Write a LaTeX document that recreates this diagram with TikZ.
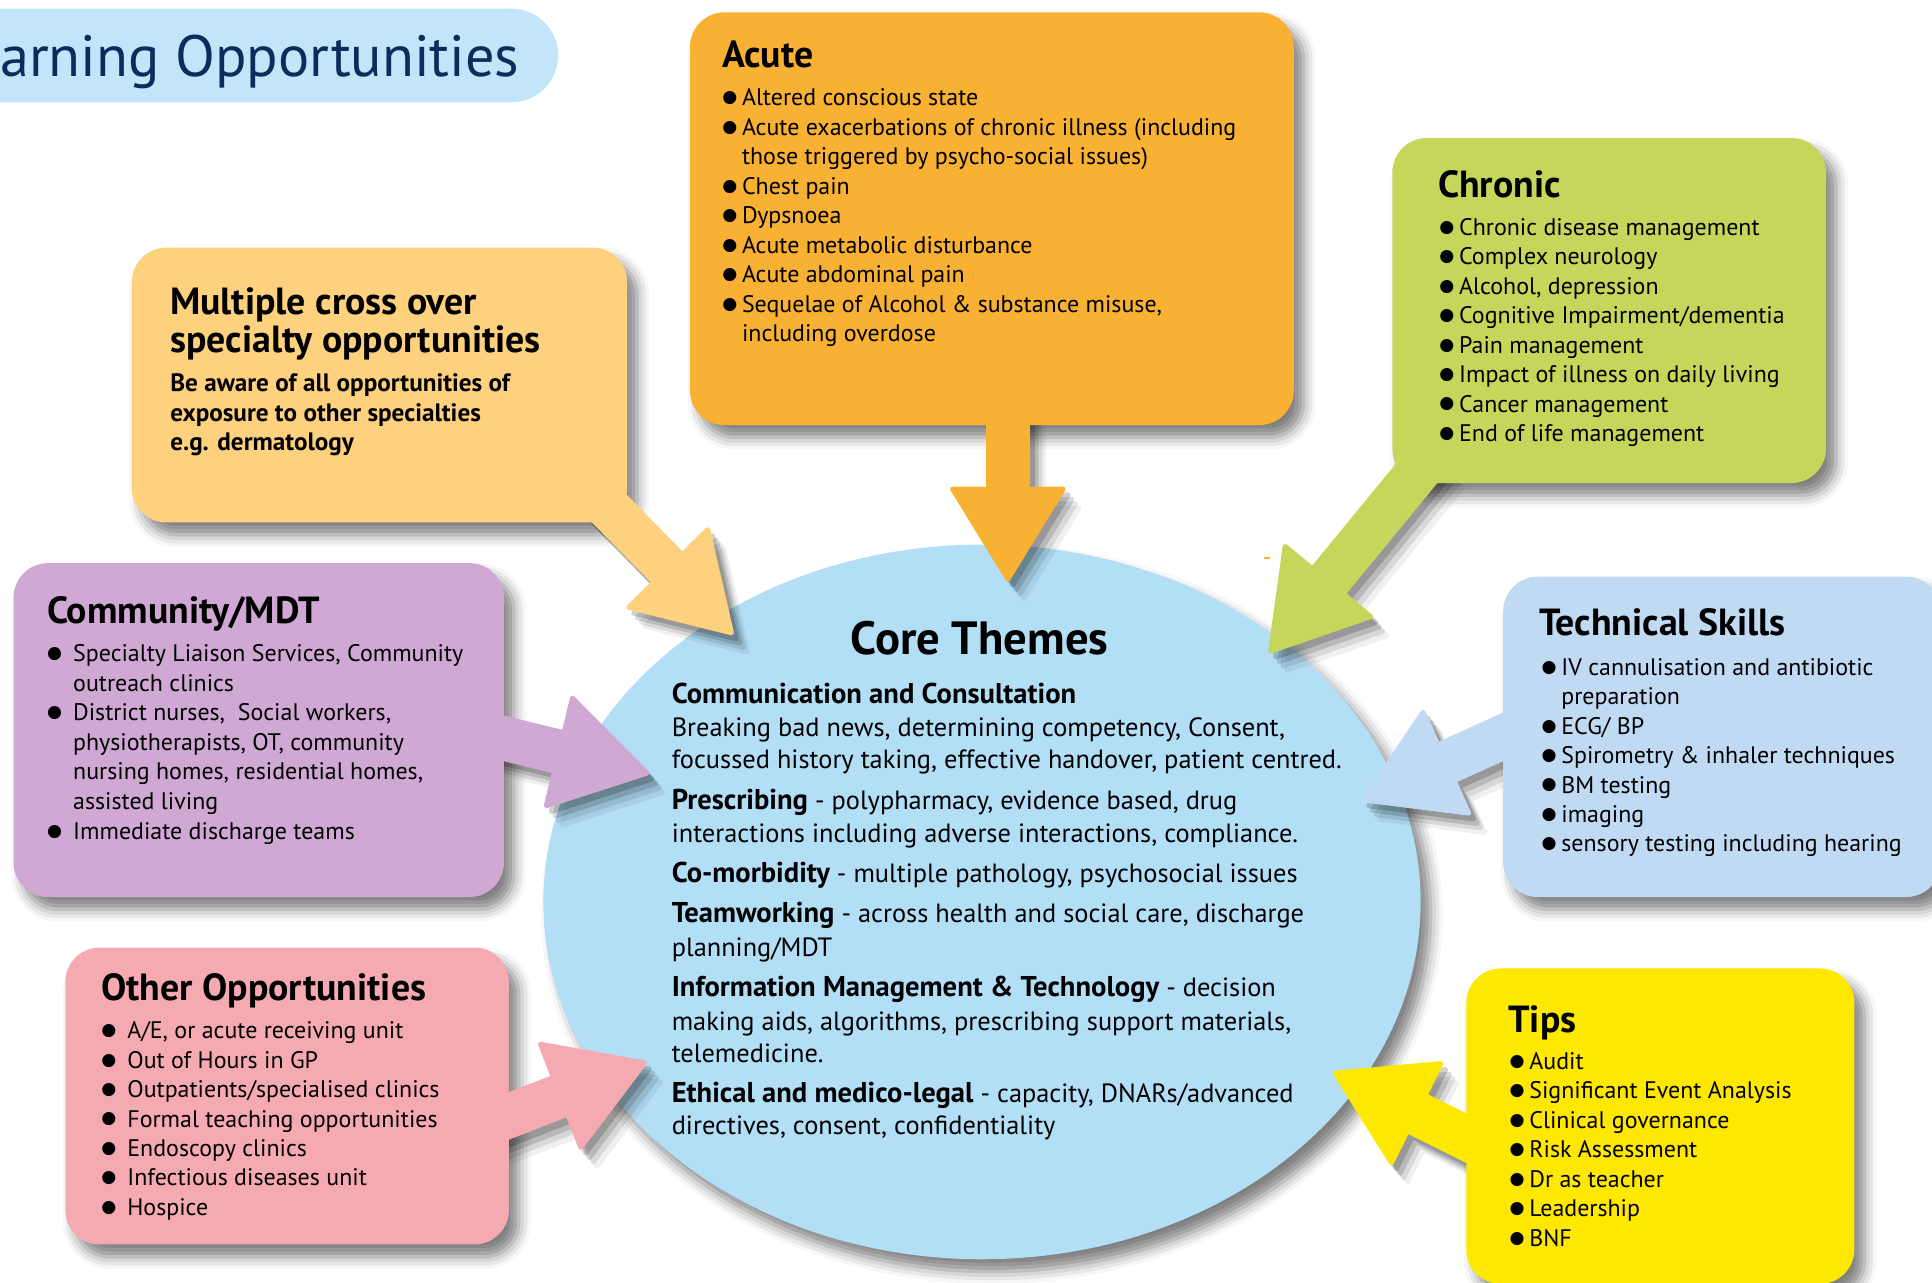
\documentclass[tikz,border=0pt]{standalone}
\usepackage{fontspec}
\setmainfont{PT Sans}
\newfontfamily\symfont{DejaVu Sans}
\usetikzlibrary{shapes.geometric,arrows.meta,shadows.blur}

\definecolor{pillblue}{HTML}{C3E5F9}
\definecolor{navy}{HTML}{0B2D5B}
\definecolor{coreblue}{HTML}{B2DEF6}
\definecolor{acutecol}{HTML}{F8B133}
\definecolor{chroniccol}{HTML}{C6D65B}
\definecolor{multicol}{HTML}{FDD17D}
\definecolor{commcol}{HTML}{CFA8D3}
\definecolor{techcol}{HTML}{BFDAF2}
\definecolor{othercol}{HTML}{F5AAB2}
\definecolor{tipscol}{HTML}{FEE800}

\pgfdeclarelayer{arrowshadow}
\pgfdeclarelayer{front}
\pgfsetlayers{main,arrowshadow,front}

\newcommand\itm{\makebox[16bp][l]{\raisebox{2.5bp}{\symfont\fontsize{14}{14}\selectfont ●}}}
\newcommand\cnt{\hspace*{16bp}}
\newcommand\bhd[1]{{\fontsize{23.3}{26}\selectfont\bfseries #1}}

\begin{document}
\begin{tikzpicture}[x=1bp,y=-1bp,
  box/.style={rounded corners=28bp, inner sep=0pt,
    blur shadow={shadow xshift=8bp, shadow yshift=-10bp, shadow blur radius=10bp, shadow opacity=50}},
  head/.style={font=\bfseries\fontsize{30.8}{32}\selectfont, anchor=base west, inner sep=0pt},
  txt/.style={font=\fontsize{19.5}{24}\selectfont, anchor=base west, inner sep=0pt},
  core/.style={font=\fontsize{21.5}{26}\selectfont, anchor=base west, inner sep=0pt},
  fat/.style={draw=#1, line width=36bp,
    -{Triangle[length=79bp, width=96bp, line width=4bp, round]}}]
\useasboundingbox (0,0) rectangle (1568,1040.5);

% core themes
\node[ellipse, fill=coreblue, minimum width=712bp, minimum height=580bp, inner sep=0pt,
  blur shadow={shadow xshift=8bp, shadow yshift=-10bp, shadow blur radius=10bp, shadow opacity=50}] (core) at (797,732) {};

\begin{pgfonlayer}{front}
% title pill
\node[rounded corners=38bp, fill=pillblue, minimum width=493bp, minimum height=76bp] (pill) at (206.5,45) {};
\node[anchor=base west, inner sep=0pt, text=navy, font=\fontsize{47.5}{50}\selectfont] (pilltext) at (0,62) {arning Opportunities};

% arrow tips
\coordinate (acutetip) at (818,472);
\coordinate (chrontip) at (1030,530);
\coordinate (multitip) at (595,515);
\coordinate (commtip) at (527,628);
\coordinate (techtip) at (1105,650);
\coordinate (othertip) at (525,862);
\coordinate (tipstip) at (1082,870);

% boxes
\node[box, fill=acutecol, minimum width=490bp, minimum height=335bp] (acute) at (805,177.5) {};
\node[box, fill=chroniccol, minimum width=352bp, minimum height=280bp] (chronic) at (1306,252) {};
\node[box, fill=multicol, minimum width=402bp, minimum height=223bp] (multi) at (308,312.5) {};
\node[box, fill=commcol, minimum width=398bp, minimum height=271bp] (community) at (210,592.5) {};
\node[box, fill=techcol, minimum width=355bp, minimum height=260bp] (tech) at (1397.5,598) {};
\node[box, fill=othercol, minimum width=360bp, minimum height=241bp] (other) at (233,889.5) {};
\node[box, fill=tipscol, minimum width=315bp, minimum height=256bp] (tips) at (1347.5,914) {};

% arrows
\foreach \nd/\dx/\dy/\tip/\col in {acute.south/13/-20/acutetip/acutecol, chronic.south west/33/-24/chrontip/chroniccol,
    multi.south east/-26/-23/multitip/multicol, community.east/-28/0/commtip/commcol, tech.west/31/-14/techtip/techcol,
    other.east/-28/27/othertip/othercol, tips.west/27/23/tipstip/tipscol}
  \draw[fat=\col] ([shift={(\dx,\dy)}]\nd) -- (\tip);
\draw[acutecol, line width=1.5bp] (1026,453) -- (1031,453);

% acute
\node[head] (acute-h) at (586,55) {Acute};
\foreach \txt [count=\i from 0] in {\itm Altered conscious state,
    \itm Acute exacerbations of chronic illness (including,
    \cnt those triggered by psycho-social issues),
    \itm Chest pain, \itm Dypsnoea, \itm Acute metabolic disturbance, \itm Acute abdominal pain,
    {\itm Sequelae of Alcohol \& substance misuse,}, \cnt including overdose}
  \node[txt] (acute-\i) at (586,86+23.9*\i) {\txt};

% chronic
\node[head] (chronic-h) at (1167,160) {Chronic};
\foreach \txt [count=\i from 0] in {\itm Chronic disease management, \itm Complex neurology,
    {\itm Alcohol, depression}, \itm Cognitive Impairment/dementia, \itm Pain management,
    \itm Impact of illness on daily living, \itm Cancer management, \itm End of life management}
  \node[txt] (chronic-\i) at (1168,191+23.9*\i) {\txt};

% multiple cross over
\node[head] (multi-h1) at (138,255) {Multiple cross over};
\node[head] (multi-h2) at (138,286) {specialty opportunities};
\foreach \txt [count=\i from 0] in {Be aware of all opportunities of, exposure to other specialties, e.g. dermatology}
  \node[txt, font=\bfseries\fontsize{20.5}{24}\selectfont] (multi-\i) at (138,318+24*\i) {\txt};

% community
\node[head] (community-h) at (38,506) {Community/MDT};
\foreach \txt [count=\i from 0] in {{\itm\ Specialty Liaison Services, Community}, \cnt\ outreach clinics,
    {\itm\ District nurses,\ \ Social workers,}, {\cnt\ physiotherapists, OT, community},
    {\cnt\ nursing homes, residential homes,}, \cnt\ assisted living, \itm\ Immediate discharge teams}
  \node[txt] (community-\i) at (38,537+24*\i) {\txt};

% technical skills
\node[head] (tech-h) at (1249,516) {Technical Skills};
\foreach \txt [count=\i from 0] in {\itm IV cannulisation and antibiotic, \cnt preparation, \itm ECG/ BP,
    \itm Spirometry \& inhaler techniques, \itm BM testing, \itm imaging, \itm sensory testing including hearing}
  \node[txt] (tech-\i) at (1251,548+23.9*\i) {\txt};

% other opportunities
\node[head] (other-h) at (82,812) {Other Opportunities};
\foreach \txt [count=\i from 0] in {{\itm\ A/E, or acute receiving unit}, \itm\ Out of Hours in GP,
    \itm\ Outpatients/specialised clinics, \itm\ Formal teaching opportunities, \itm\ Endoscopy clinics,
    \itm\ Infectious diseases unit, \itm\ Hospice}
  \node[txt] (other-\i) at (82,843+23.9*\i) {\txt};

% tips
\node[head] (tips-h) at (1224,838) {Tips};
\foreach \txt [count=\i from 0] in {\itm Audit, \itm Significant Event Analysis, \itm Clinical governance,
    \itm Risk Assessment, \itm Dr as teacher, \itm Leadership, \itm BNF}
  \node[txt] (tips-\i) at (1225,868+23.9*\i) {\txt};

% core themes text
\node[font=\bfseries\fontsize{38}{40}\selectfont, anchor=base, inner sep=0pt] (core-h) at (795,531) {Core Themes};
\foreach \y/\txt in {571/\bhd{Communication and Consultation},
    598/{Breaking bad news, determining competency, Consent,},
    624/{focussed history taking, effective handover, patient centred.},
    657/{\bhd{Prescribing} - polypharmacy, evidence based, drug},
    684/{interactions including adverse interactions, compliance.},
    716/{\bhd{Co-morbidity} - multiple pathology, psychosocial issues},
    749/{\bhd{Teamworking} - across health and social care, discharge},
    776/{planning/MDT},
    809/{\bhd{Information Management \& Technology} - decision},
    836/{making aids, algorithms, prescribing support materials,},
    862/telemedicine.,
    895/{\bhd{Ethical and medico-legal} - capacity, DNARs/advanced},
    921/{directives, consent, confidentiality}}
  \node[core] (core-\y) at (545,\y) {\txt};
\end{pgfonlayer}

% soft arrow shadows, under the boxes
\begin{pgfonlayer}{arrowshadow}
\foreach \s/\op in {4/.18, 7/.14, 10/.10, 13/.06}
{\begin{scope}[transparency group, opacity=\op]
  \foreach \nd/\dx/\dy/\tip in {acute.south/13/-20/acutetip, chronic.south west/33/-24/chrontip,
      multi.south east/-26/-23/multitip, community.east/-28/0/commtip, tech.west/31/-14/techtip,
      other.east/-28/27/othertip, tips.west/27/23/tipstip}
    \draw[fat=black] ([shift={(\dx+\s,\dy+1.2*\s)}]\nd) -- ([shift={(\s,1.2*\s)}]\tip);
\end{scope}}
\end{pgfonlayer}
\end{tikzpicture}
\end{document}
